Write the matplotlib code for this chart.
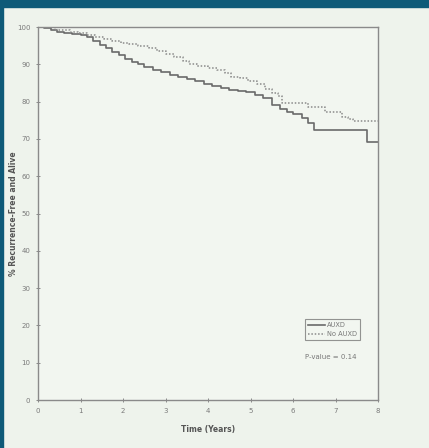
import numpy as np
import matplotlib
matplotlib.use("Agg")
import matplotlib.pyplot as plt
from matplotlib.patches import Rectangle

# ------------------------------------------------------------
# Kaplan-Meier step data (time in years, % recurrence-free and alive)
# ------------------------------------------------------------
auxd_t = [0, 0.15, 0.3, 0.45, 0.6, 0.8, 1.0, 1.15, 1.3, 1.45, 1.6, 1.75,
          1.9, 2.05, 2.2, 2.35, 2.5, 2.7, 2.9, 3.1, 3.3, 3.5, 3.7, 3.9,
          4.1, 4.3, 4.5, 4.7, 4.9, 5.1, 5.3, 5.5, 5.7, 5.85, 6.0, 6.2,
          6.35, 6.5, 7.75, 8.0]
auxd_s = [100, 99.6, 99.2, 98.7, 98.4, 98.2, 97.8, 97.2, 96.3, 95.2, 94.3,
          93.2, 92.4, 91.5, 90.7, 90.0, 89.3, 88.6, 87.9, 87.2, 86.6, 86.0,
          85.4, 84.8, 84.2, 83.7, 83.2, 82.9, 82.5, 81.8, 81.0, 79.2, 78.0,
          77.2, 76.6, 75.6, 74.3, 72.4, 69.2, 69.2]

no_auxd_t = [0, 0.4, 0.75, 0.95, 1.15, 1.35, 1.55, 1.75, 1.95, 2.15, 2.35,
             2.6, 2.8, 3.0, 3.2, 3.4, 3.55, 3.75, 4.0, 4.2, 4.4, 4.55, 4.75,
             4.95, 5.15, 5.35, 5.5, 5.65, 5.75, 6.35, 6.75, 7.15, 7.3, 7.4,
             8.0]
no_auxd_s = [100, 99.2, 98.7, 98.3, 97.8, 97.4, 96.9, 96.3, 95.7, 95.4, 95.0,
             94.4, 93.6, 92.8, 92.0, 91.0, 90.2, 89.6, 89.1, 88.5, 87.6, 86.7,
             86.2, 85.5, 84.6, 83.3, 82.4, 81.4, 79.6, 78.6, 77.2, 75.9, 75.4,
             74.8, 74.8]

x_ticks = list(range(0, 9))
y_ticks = list(range(0, 101, 10))
p_value = 0.14

# ------------------------------------------------------------
# Figure
# ------------------------------------------------------------
bg = "#eef3ec"
teal = "#0e5a78"

fig = plt.figure(figsize=(4.29, 4.48), dpi=100, facecolor=bg)

# slide frame
fig.patches.append(Rectangle((0, 1 - 7 / 448), 1, 7 / 448,
                             transform=fig.transFigure, color=teal, zorder=0))
fig.patches.append(Rectangle((0, 0), 3 / 429, 1,
                             transform=fig.transFigure, color=teal, zorder=0))

ax = fig.add_axes([38 / 429, 1 - 400 / 448, 340 / 429, 373 / 448])
ax.set_facecolor("#f2f6f0")

ax.step(auxd_t, auxd_s, where="post", color="#6a6a6a", lw=1.2,
        label="AUXD")
ax.step(no_auxd_t, no_auxd_s, where="post", color="#8a8a8a", lw=1.1,
        linestyle=(0, (1, 1.2)), label="No AUXD")

ax.set_xlim(0, 8)
ax.set_ylim(0, 100)
ax.set_xticks(x_ticks)
ax.set_yticks(y_ticks)

for side in ["left", "bottom", "top", "right"]:
    ax.spines[side].set_color("#8a8a8a")
    ax.spines[side].set_linewidth(1.0)

ax.tick_params(axis="both", direction="inout", length=3, width=0.7,
               color="#8a8a8a", labelsize=5, labelcolor="#7a7a7a", pad=4)

ax.set_xlabel("Time (Years)", fontsize=5.5, color="#555555",
              fontweight="bold", labelpad=8)
ax.set_ylabel("% Recurrence-Free and Alive", fontsize=5.5, color="#555555",
              fontweight="bold")
ax.yaxis.set_label_coords(-0.058, 0.5)

leg = ax.legend(loc="lower left", bbox_to_anchor=(0.785, 0.16),
                fontsize=4.8, frameon=True, fancybox=False, handlelength=2.6,
                borderpad=0.45, labelspacing=0.45, handletextpad=0.2,
                borderaxespad=0)
leg.get_frame().set_edgecolor("#7a7a7a")
leg.get_frame().set_facecolor("#f2f6f0")
leg.get_frame().set_linewidth(0.8)
for txt in leg.get_texts():
    txt.set_color("#777777")

ax.text(0.86, 0.115, f"P-value = {p_value}", transform=ax.transAxes,
        fontsize=5, color="#777777", ha="center", va="center")

fig.savefig("out.png", dpi=100, facecolor=bg)
